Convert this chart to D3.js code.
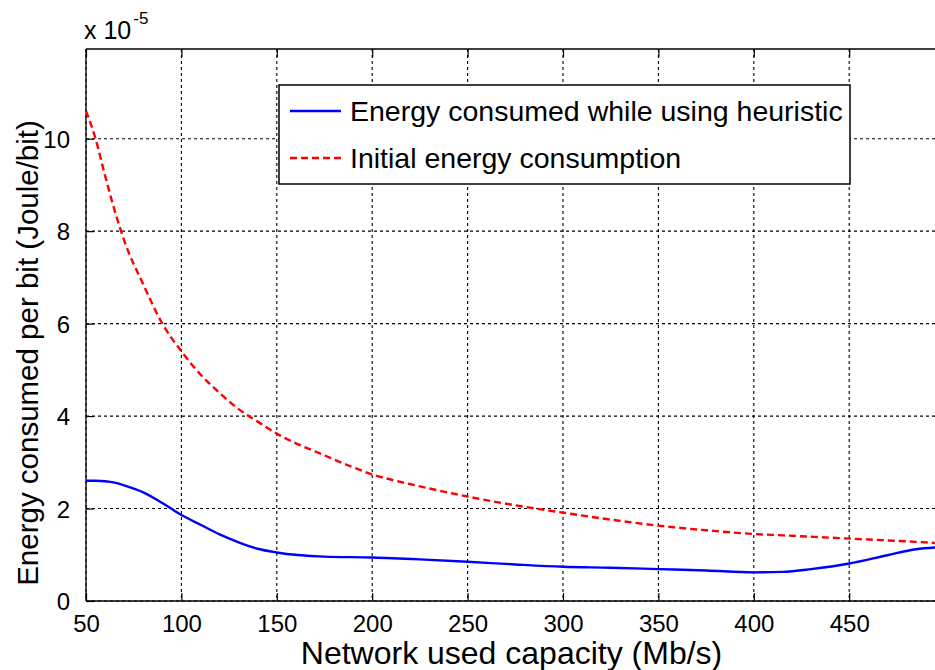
<!DOCTYPE html>
<html>
<head>
<meta charset="utf-8">
<script src="https://cdn.jsdelivr.net/npm/d3@7"></script>
<style>
  html, body { margin: 0; padding: 0; background: #fff; }
  svg { display: block; font-family: "Liberation Sans", Arial, Helvetica, sans-serif; }
</style>
</head>
<body>
<svg id="chart" width="935" height="670"></svg>
<script>
// ---- data ----
const capacity = [50, 55, 60, 65, 70, 80, 90, 100, 110, 120, 130, 140, 150, 175, 200, 225, 250, 275, 300, 325, 350, 375, 400, 415, 430, 450, 470, 485, 500];
const heuristic = [2.60, 2.60, 2.59, 2.56, 2.50, 2.35, 2.12, 1.86, 1.65, 1.44, 1.27, 1.13, 1.05, 0.96, 0.94, 0.90, 0.85, 0.79, 0.74, 0.72, 0.69, 0.66, 0.62, 0.63, 0.69, 0.81, 0.99, 1.12, 1.17];
const initial = [10.6, 10.0, 9.2, 8.45, 7.8, 6.85, 6.0, 5.4, 4.9, 4.5, 4.15, 3.88, 3.62, 3.15, 2.74, 2.48, 2.26, 2.07, 1.91, 1.76, 1.63, 1.53, 1.45, 1.42, 1.39, 1.35, 1.31, 1.28, 1.24];
const xTicks = [50, 100, 150, 200, 250, 300, 350, 400, 450, 500];
const yTicks = [0, 2, 4, 6, 8, 10];
const seriesNames = ["Energy consumed while using heuristic", "Initial energy consumption"];
const xDomain = [50, 500];
const yDomain = [0, 11.94];

// ---- layout ----
const svg = d3.select("#chart");
const L = 86, R = 944.6, T = 49, B = 601;
const x = d3.scaleLinear().domain(xDomain).range([L, R]);
const y = d3.scaleLinear().domain(yDomain).range([B, T]);

// grid
const grid = svg.append("g").attr("stroke", "#000").attr("stroke-width", 1.1).attr("stroke-dasharray", "3,3");
xTicks.forEach(t => grid.append("line").attr("x1", x(t)).attr("x2", x(t)).attr("y1", T).attr("y2", B));
yTicks.forEach(t => grid.append("line").attr("x1", L).attr("x2", R).attr("y1", y(t)).attr("y2", y(t)));

// axes frame
const frame = svg.append("g").attr("stroke", "#000").attr("stroke-width", 1.3).attr("fill", "none");
frame.append("line").attr("x1", L).attr("x2", R).attr("y1", T).attr("y2", T);
frame.append("line").attr("x1", L).attr("x2", R).attr("y1", B).attr("y2", B);
frame.append("line").attr("x1", L).attr("x2", L).attr("y1", T).attr("y2", B);
frame.append("line").attr("x1", R).attr("x2", R).attr("y1", T).attr("y2", B);

// axes with inward ticks
const xAxis = svg.append("g").attr("transform", `translate(0,${B})`)
  .call(d3.axisBottom(x).tickValues(xTicks.filter(t => t < 500)).tickSizeInner(-8).tickSizeOuter(0).tickPadding(18));
const xAxisTop = svg.append("g").attr("transform", `translate(0,${T})`)
  .call(d3.axisTop(x).tickValues(xTicks).tickSizeInner(-8).tickSizeOuter(0).tickFormat(""));
const yAxis = svg.append("g").attr("transform", `translate(${L},0)`)
  .call(d3.axisLeft(y).tickValues(yTicks).tickSizeInner(-8).tickSizeOuter(0).tickPadding(16));
[xAxis, xAxisTop, yAxis].forEach(a => {
  a.select(".domain").remove();
  a.selectAll(".tick line").attr("stroke", "#000").attr("stroke-width", 1.2);
  a.selectAll("text").attr("fill", "#000").style("font-size", "24px").style("font-family", "'Liberation Sans', Arial, sans-serif");
});
xAxis.selectAll("text").attr("dy", "0.55em");
yAxis.selectAll("text").attr("dy", "0.36em");

// lines
const line = d3.line().x((d, i) => x(capacity[i])).y(d => y(d)).curve(d3.curveMonotoneX);
svg.append("clipPath").attr("id", "plotclip").append("rect").attr("x", L).attr("y", T).attr("width", R - L).attr("height", B - T);
svg.append("path").datum(initial).attr("d", line).attr("fill", "none")
  .attr("stroke", "#ff0000").attr("stroke-width", 2.4).attr("stroke-dasharray", "7,4").attr("clip-path", "url(#plotclip)");
svg.append("path").datum(heuristic).attr("d", line).attr("fill", "none")
  .attr("stroke", "#0000ff").attr("stroke-width", 2.4).attr("clip-path", "url(#plotclip)");

// exponent label
const ex = svg.append("text").attr("x", 84).attr("y", 39).attr("fill", "#000").style("font-size", "25px");
ex.append("tspan").text("x 10");
ex.append("tspan").attr("dy", -15).attr("dx", 2).style("font-size", "17px").text("-5");

// axis titles
svg.append("text").attr("x", (300 + 723) / 2).attr("y", 664).attr("text-anchor", "middle")
  .attr("fill", "#000").style("font-size", "32px").text("Network used capacity (Mb/s)");
svg.append("text").attr("transform", "translate(38,353) rotate(-90)").attr("text-anchor", "middle")
  .attr("fill", "#000").style("font-size", "29.5px").text("Energy consumed per bit (Joule/bit)");

// legend
const lg = svg.append("g");
lg.append("rect").attr("x", 279).attr("y", 85).attr("width", 571).attr("height", 99)
  .attr("fill", "#fff").attr("stroke", "#000").attr("stroke-width", 1.5);
const legendItems = [
  { name: seriesNames[0], color: "#0000ff", dash: null, yy: 111 },
  { name: seriesNames[1], color: "#ff0000", dash: "7,4", yy: 158 }
];
legendItems.forEach(it => {
  lg.append("line").attr("x1", 290).attr("x2", 341).attr("y1", it.yy).attr("y2", it.yy)
    .attr("stroke", it.color).attr("stroke-width", 2.4).attr("stroke-dasharray", it.dash);
  lg.append("text").attr("x", 350).attr("y", it.yy).attr("dy", "0.36em").attr("fill", "#000")
    .style("font-size", "28.5px").text(it.name);
});
</script>
</body>
</html>
